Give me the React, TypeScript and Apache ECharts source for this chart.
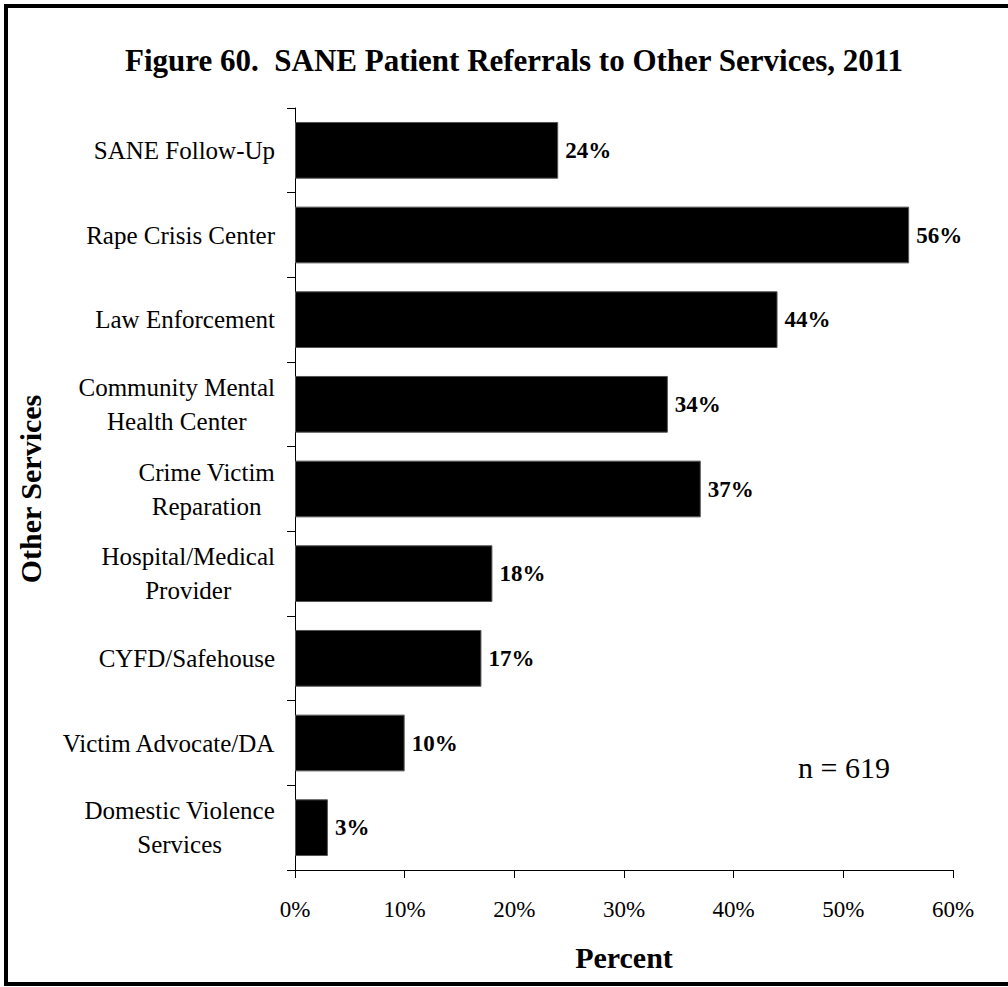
import React, { useEffect, useRef } from "react";
import * as echarts from "echarts";

const categories: string[] = [
  "SANE Follow-Up",
  "Rape Crisis Center",
  "Law Enforcement",
  "Community Mental\nHealth Center",
  "Crime Victim\nReparation",
  "Hospital/Medical\nProvider",
  "CYFD/Safehouse",
  "Victim Advocate/DA",
  "Domestic Violence\nServices",
];
const percentValues: number[] = [24, 56, 44, 34, 37, 18, 17, 10, 3];
const xTicks = { min: 0, max: 60, interval: 10 };
const titleText = "Figure 60.  SANE Patient Referrals to Other Services, 2011";
const sampleNote = "n = 619";

const SERIF = '"Liberation Serif", "Times New Roman", Times, serif';

export default function App() {
  const ref = useRef<HTMLDivElement>(null);
  useEffect(() => {
    if (!ref.current) return;
    const chart = echarts.init(ref.current, undefined, { renderer: "svg" });
    chart.setOption({
      animation: false,
      backgroundColor: "#ffffff",
      textStyle: { fontFamily: SERIF, color: "#000" },
      title: {
        text: titleText,
        left: 509,
        top: 40,
        textAlign: "center",
        textStyle: { fontFamily: SERIF, fontSize: 31, fontWeight: "bold", color: "#000" },
      },
      grid: { left: 295, top: 108, right: 55, bottom: 117, containLabel: false },
      xAxis: {
        type: "value",
        min: xTicks.min,
        max: xTicks.max,
        interval: xTicks.interval,
        name: "Percent",
        nameLocation: "middle",
        nameGap: 72,
        nameTextStyle: { fontFamily: SERIF, fontSize: 30, fontWeight: "bold", color: "#000" },
        axisLine: { show: true, lineStyle: { color: "#000", width: 1 } },
        axisTick: { show: true, length: 8, lineStyle: { color: "#000" } },
        splitLine: { show: false },
        axisLabel: {
          formatter: "{value}%",
          fontFamily: SERIF,
          fontSize: 23,
          color: "#000",
          margin: 28,
        },
      },
      yAxis: {
        type: "category",
        data: categories,
        inverse: true,
        name: "Other Services",
        nameLocation: "middle",
        nameRotate: 90,
        nameGap: 250,
        nameTextStyle: { fontFamily: SERIF, fontSize: 30, fontWeight: "bold", color: "#000" },
        axisLine: { show: true, lineStyle: { color: "#000", width: 1 } },
        axisTick: { show: true, length: 8, lineStyle: { color: "#000" } },
        axisLabel: {
          margin: 20,
          align: "right",
          formatter: (v: string) =>
            v
              .split("\n")
              .map((l) => `{c|${l}}`)
              .join("\n"),
          rich: {
            c: {
              align: "center",
              fontFamily: SERIF,
              fontSize: 25,
              lineHeight: 34,
              color: "#000",
            },
          },
        },
      },
      series: [
        {
          type: "bar",
          data: percentValues,
          barCategoryGap: "33%",
          itemStyle: { color: "#000", borderColor: "#555", borderWidth: 1 },
          label: {
            show: true,
            position: "right",
            distance: 7,
            formatter: "{c}%",
            fontFamily: SERIF,
            fontSize: 23,
            fontWeight: "bold",
            color: "#000",
          },
        },
      ],
      graphic: [
        {
          type: "rect",
          shape: { x: 6, y: 6, width: 1020, height: 978 },
          style: { fill: "none", stroke: "#000", lineWidth: 4 },
          silent: true,
        },
        {
          type: "text",
          x: 844,
          y: 767,
          style: {
            text: sampleNote,
            fontFamily: SERIF,
            fontSize: 30,
            fill: "#000",
            textAlign: "center",
            textVerticalAlign: "middle",
          },
        },
      ],
    });
    return () => chart.dispose();
  }, []);
  return (
    <div
      ref={ref}
      style={{ position: "absolute", left: 0, top: 0, width: 1008, height: 987 }}
    />
  );
}
